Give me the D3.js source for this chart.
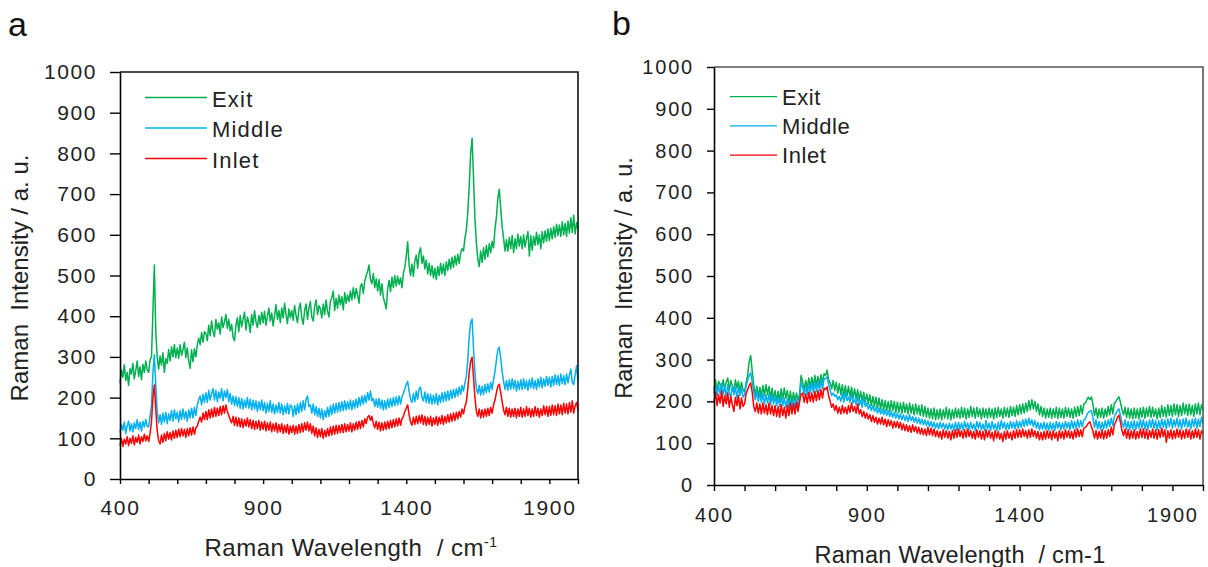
<!DOCTYPE html>
<html>
<head>
<meta charset="utf-8">
<script src="https://cdn.jsdelivr.net/npm/d3@7"></script>
<style>
  html, body { margin: 0; padding: 0; background: #fff; }
  svg { display: block; font-family: "Liberation Sans", Arial, Helvetica, sans-serif; }
</style>
</head>
<body>
<svg id="chart" width="1208" height="567"></svg>
<script>
// Raman shift grid (cm-1), one sample every 5 cm-1
const wavenumbers = d3.range(400, 2001, 5);

// Tick values
const yTicks = d3.range(0, 1001, 100);
const xTicks = d3.range(400, 2001, 100);
const xLabelTicks = [400, 900, 1400, 1900];

const seriesNames = ["Exit", "Middle", "Inlet"];
const seriesColors = ["#00b050", "#00b0f0", "#ff0000"];

// ---- Panel a : spectra (a. u.), one row per 100 cm-1 ----
const exitA = [
  235,268,250,281,242,262,230,271,258,284,246,266,290,252,276,244,282,262,290,268,
  262,292,300,410,526,360,300,270,302,280,310,262,296,284,318,290,325,300,330,298,
  322,296,330,304,318,336,298,322,290,272,318,288,320,300,330,346,330,360,336,362,
  358,340,378,352,388,362,350,392,368,384,356,398,372,386,404,370,392,364,380,348,
  340,378,396,362,402,374,392,410,366,398,384,360,404,378,414,386,372,402,380,410,
  384,412,378,400,420,388,408,376,402,428,392,414,384,420,396,432,404,382,418,396,
  414,390,426,402,384,418,432,396,380,414,430,392,420,436,398,388,424,440,404,426,
  418,396,430,404,440,412,398,436,446,462,414,444,420,452,428,448,416,458,432,452,
  436,462,440,470,444,468,452,432,474,480,456,486,500,510,526,490,480,505,470,492,
  462,490,452,480,446,432,418,468,488,460,496,470,500,474,498,478,494,470,506,520,
  548,583,526,500,528,498,536,550,518,556,568,530,548,516,538,504,530,500,524,494,
  518,490,522,500,530,504,528,500,534,512,540,516,545,520,548,526,552,530,556,566,
  560,592,612,655,720,800,837,740,640,580,540,522,560,532,568,540,574,546,578,556,
  584,568,615,642,690,712,665,620,592,560,588,560,594,566,598,556,590,566,602,572,
  596,566,600,570,590,608,548,598,562,596,574,606,576,600,566,608,580,610,584,614,
  586,616,590,620,594,626,598,624,596,632,600,628,596,634,604,642,606,648,602,630,
  614
];
const middleA = [
  114,134,120,140,112,130,142,118,136,116,138,124,146,122,140,118,142,128,146,130,
  128,154,180,260,305,230,166,138,158,134,162,140,164,136,160,144,168,142,170,148,
  164,140,168,146,172,148,166,142,170,150,174,150,176,156,182,196,204,182,208,188,
  212,188,218,194,210,222,194,218,190,214,198,222,192,216,200,220,190,210,184,204,
  180,202,178,200,174,198,172,194,176,200,174,196,170,194,172,192,166,190,170,194,
  168,188,162,186,166,192,164,184,160,182,164,188,162,184,158,180,162,186,160,182,
  178,154,180,158,184,162,188,166,192,170,196,204,178,182,162,184,158,178,154,174,
  150,172,146,168,152,176,154,180,158,184,162,186,164,188,166,190,168,192,170,190,
  172,194,170,192,174,196,176,200,180,204,184,206,188,212,194,216,192,198,178,196,
  176,198,174,194,170,192,172,196,176,198,178,200,180,202,182,204,184,202,210,222,
  232,240,216,196,188,210,190,216,196,222,226,200,192,214,188,210,186,208,184,206,
  186,210,182,206,188,212,190,214,192,216,194,218,198,220,200,222,204,226,208,230,
  216,236,252,292,350,385,393,320,262,222,210,230,206,228,208,232,212,234,214,238,
  220,244,264,292,318,324,296,264,240,220,242,218,244,220,246,222,242,216,240,220,
  244,220,246,222,242,218,244,224,248,222,242,220,246,226,250,224,246,228,252,230,
  250,226,252,230,256,232,254,230,258,234,254,232,258,236,256,270,238,232,256,278,
  240
];
const inletA = [
  82,100,80,98,86,104,82,100,88,106,84,102,90,108,86,104,92,110,94,106,
  92,112,140,200,231,170,118,94,86,108,90,112,94,116,98,114,96,118,100,120,
  102,122,104,124,106,122,102,124,106,126,108,128,110,126,130,142,152,140,162,146,
  166,146,170,150,172,152,176,154,174,156,178,158,180,162,182,166,156,146,138,154,
  132,152,130,150,128,148,126,146,130,150,128,146,124,144,122,142,124,144,120,140,
  122,142,118,138,120,140,116,136,118,138,114,134,116,136,112,132,114,134,110,130,
  114,132,110,130,112,134,114,136,116,138,120,140,118,136,112,130,106,126,102,122,
  104,124,100,120,104,124,106,128,108,130,110,132,112,132,114,134,114,136,116,134,
  118,138,116,136,120,140,122,142,124,144,128,148,136,152,156,144,154,136,126,142,
  122,140,118,138,120,140,122,142,124,144,126,146,128,148,130,150,132,148,154,166,
  174,182,158,140,132,152,134,154,136,156,138,158,134,154,132,152,134,154,130,150,
  134,154,132,152,136,156,134,154,138,158,140,160,142,162,144,164,148,166,152,172,
  160,178,190,222,262,290,299,250,200,166,154,172,150,170,152,172,154,174,156,176,
  162,182,194,212,228,233,212,190,170,158,176,154,174,152,172,154,174,150,172,154,
  176,152,172,154,178,156,174,152,172,154,178,156,174,152,172,156,180,158,178,154,
  178,156,182,158,180,156,184,160,182,158,186,162,184,160,188,164,192,162,180,188,
  168
];

// ---- Panel b : spectra (a. u.), one row per 100 cm-1 ----
const exitB = [
  228,252,222,248,240,220,252,230,246,256,226,250,238,220,252,232,248,224,246,228,
  222,244,262,295,310,272,240,214,236,210,234,212,238,214,240,216,236,206,232,204,
  226,200,224,202,230,206,232,208,226,198,224,196,222,200,220,202,218,262,246,228,
  250,230,256,234,258,236,262,238,260,240,264,244,266,262,275,252,244,230,250,226,
  246,220,242,216,240,214,238,212,236,210,234,208,230,206,228,202,224,200,222,198,
  218,194,216,190,212,188,210,184,208,182,204,180,202,178,200,176,202,178,200,174,
  198,174,196,172,198,174,194,170,196,172,192,168,194,170,190,166,192,164,188,162,
  184,160,182,158,184,156,180,158,182,156,180,160,186,158,182,156,180,160,184,162,
  182,160,186,162,184,158,182,162,188,164,184,160,186,164,182,158,184,162,182,160,
  184,162,182,158,184,162,186,164,182,160,186,164,184,162,188,166,186,164,190,168,
  192,170,194,172,196,176,202,180,204,182,200,176,194,168,188,164,184,160,182,162,
  184,160,182,162,186,160,184,162,182,160,186,164,184,162,182,160,186,164,188,166,
  190,170,194,196,204,210,204,211,192,166,184,160,182,162,184,160,182,164,188,168,
  192,170,196,200,206,211,198,180,168,186,162,184,160,182,158,184,160,182,158,184,
  162,186,160,184,164,188,162,186,164,182,158,184,162,190,164,186,162,192,166,190,
  164,194,168,192,164,190,166,196,170,192,166,194,168,190,164,194,170,196,168,192,
  180
];
const middleB = [
  220,242,214,238,218,244,216,236,212,240,220,210,238,216,234,208,236,214,232,210,
  216,236,250,262,268,246,222,204,224,200,220,198,218,194,216,196,218,192,214,194,
  212,190,210,188,212,190,208,186,206,184,204,186,206,184,204,188,210,244,234,216,
  236,216,242,220,244,222,246,224,248,226,250,230,254,254,259,240,226,214,220,212,
  216,204,212,200,220,198,222,202,210,198,218,196,206,192,214,190,202,186,210,188,
  196,182,192,178,190,176,186,172,184,170,182,168,180,166,178,164,176,162,174,160,
  172,158,170,156,168,154,166,152,168,154,164,150,162,148,160,146,158,144,156,142,
  154,140,152,138,150,136,148,134,150,136,148,134,146,132,148,134,146,130,150,132,
  150,134,148,132,152,136,148,132,150,134,146,130,152,136,150,132,146,130,154,134,
  148,130,152,134,146,130,150,132,154,136,150,132,148,134,152,136,150,134,154,136,
  152,138,156,140,158,142,160,144,156,140,154,136,150,132,148,134,150,132,148,130,
  150,132,148,130,152,136,150,132,148,134,152,136,150,132,154,136,152,134,156,138,
  154,140,156,158,168,174,176,178,160,138,156,134,152,132,150,134,154,136,156,140,
  160,142,164,170,178,182,166,150,138,156,134,152,132,152,134,154,132,152,136,156,
  136,156,134,152,132,156,138,158,136,154,132,154,136,158,138,156,134,158,140,160,
  136,156,140,160,138,156,134,158,140,160,138,154,134,158,140,160,136,158,140,162,
  146
];
const inletB = [
  198,222,190,216,196,224,188,214,194,220,186,212,192,176,210,190,214,182,208,188,
  194,218,228,238,244,222,188,176,196,172,194,170,196,172,192,168,196,170,190,166,
  190,164,188,162,192,166,186,160,190,166,196,170,194,170,198,176,198,218,220,198,
  218,196,222,200,220,198,224,202,226,204,228,208,232,228,235,214,200,186,194,178,
  190,172,186,170,190,172,186,170,190,174,196,176,188,172,194,170,180,164,176,160,
  172,158,168,152,166,150,162,146,160,146,162,144,158,140,156,142,154,136,152,138,
  152,136,150,132,146,130,144,128,142,126,144,128,140,124,138,122,136,120,134,118,
  138,120,136,118,134,116,130,114,128,110,132,114,130,112,128,108,130,112,132,114,
  134,116,130,112,132,114,134,116,130,112,128,110,132,114,130,110,128,108,132,114,
  130,112,126,106,130,112,128,110,124,104,128,110,130,112,126,108,130,112,132,114,
  132,114,134,116,130,112,132,114,134,116,130,112,128,108,126,108,128,110,130,112,
  128,108,130,112,126,106,130,112,128,110,132,114,130,112,128,110,132,114,134,116,
  132,116,136,138,142,148,151,140,128,112,130,110,128,112,132,110,130,112,132,116,
  138,120,144,152,162,167,150,130,118,134,112,132,110,130,112,132,110,128,112,134,
  114,134,112,132,110,130,114,134,112,132,110,132,114,136,116,132,102,130,112,132,
  110,130,112,134,114,132,110,130,112,134,114,132,110,130,112,134,114,132,110,130,
  122
];

const svg = d3.select("#chart");

function drawPanel(cfg, values) {
  const x = d3.scaleLinear().domain([400, 2000]).range([cfg.left, cfg.right]);
  const y = d3.scaleLinear().domain([0, 1000]).range([cfg.bottom, cfg.top]);
  const g = svg.append("g");

  // spectra: Exit, Middle, Inlet (Inlet drawn last, on top)
  const line = d3.line()
    .x((d, i) => x(wavenumbers[i]))
    .y(d => y(d));
  values.forEach((vals, k) => {
    g.append("path")
      .datum(vals)
      .attr("d", line)
      .attr("fill", "none")
      .attr("stroke", seriesColors[k])
      .attr("stroke-width", 1.5)
      .attr("stroke-linejoin", "round");
  });

  // top and right border of the plot box
  g.append("path")
    .attr("d", `M${cfg.left},${cfg.top}H${cfg.right}V${cfg.bottom}`)
    .attr("fill", "none")
    .attr("stroke", cfg.frameColor)
    .attr("stroke-width", 1.6);

  // y axis
  const gy = g.append("g")
    .attr("transform", `translate(${cfg.left},0)`)
    .call(d3.axisLeft(y).tickValues(yTicks).tickSize(cfg.yTickLen)
      .tickSizeOuter(0).tickPadding(cfg.yPad).tickFormat(d3.format("d")));
  gy.select(".domain").attr("stroke", "#000").attr("stroke-width", 1.6);
  gy.selectAll(".tick line").attr("stroke", "#000").attr("stroke-width", 1.4);
  gy.selectAll(".tick text")
    .attr("font-size", cfg.tickFont)
    .attr("letter-spacing", cfg.tickSpacing)
    .attr("fill", "#222")
    .attr("font-family", "'Liberation Sans', Arial, sans-serif");

  // x axis: minor ticks every 100 cm-1, labels every 500 cm-1
  const gx = g.append("g")
    .attr("transform", `translate(0,${cfg.bottom})`)
    .call(d3.axisBottom(x).tickValues(xTicks).tickSize(cfg.xTickLen)
      .tickSizeOuter(0).tickPadding(cfg.xPad)
      .tickFormat(d => xLabelTicks.includes(d) ? String(d) : ""));
  gx.select(".domain").attr("stroke", "#000").attr("stroke-width", 1.6);
  gx.selectAll(".tick line").attr("stroke", "#000").attr("stroke-width", 1.4);
  gx.selectAll(".tick text")
    .attr("font-size", cfg.tickFont)
    .attr("letter-spacing", cfg.tickSpacing)
    .attr("fill", "#222")
    .attr("font-family", "'Liberation Sans', Arial, sans-serif");

  // legend
  seriesNames.forEach((name, k) => {
    const ly = cfg.legendY + k * cfg.legendStep;
    g.append("line")
      .attr("x1", cfg.legendX1).attr("x2", cfg.legendX2)
      .attr("y1", ly).attr("y2", ly)
      .attr("stroke", seriesColors[k]).attr("stroke-width", 1.3);
    g.append("text")
      .attr("x", cfg.legendX2 + 5).attr("y", ly + cfg.legendTextDy)
      .attr("font-size", cfg.legendFont)
      .attr("letter-spacing", cfg.legendSpacing)
      .attr("fill", "#222")
      .text(name);
  });

  // axis titles
  g.append("text")
    .attr("transform", `translate(${cfg.yTitleX},${cfg.yTitleY}) rotate(-90)`)
    .attr("text-anchor", "middle")
    .attr("font-size", cfg.titleFont)
    .attr("fill", "#222")
    .style("white-space", "pre")
    .text("Raman  Intensity / a. u.");

  const xt = g.append("text")
    .attr("x", cfg.xTitleX).attr("y", cfg.xTitleY)
    .attr("text-anchor", "middle")
    .attr("font-size", cfg.titleFont)
    .attr("letter-spacing", cfg.titleSpacing)
    .attr("fill", "#222")
    .style("white-space", "pre");
  if (cfg.superscript) {
    xt.append("tspan").text("Raman Wavelength  / cm");
    xt.append("tspan").attr("dy", -9).attr("font-size", 14).text("-1");
  } else {
    xt.append("tspan").text("Raman Wavelength  / cm-1");
  }

  // panel letter
  g.append("text")
    .attr("x", cfg.letterX).attr("y", cfg.letterY)
    .attr("font-size", 34)
    .attr("fill", "#111")
    .text(cfg.letter);
}

drawPanel({
  left: 120, right: 578, top: 72, bottom: 479,
  frameColor: "#111",
  yTickLen: 10, yPad: 13, xTickLen: 5, xPad: 16,
  tickFont: 21, tickSpacing: 1.6,
  legendX1: 145, legendX2: 207, legendY: 97.5, legendStep: 30.5, legendTextDy: 9,
  legendFont: 22, legendSpacing: 1.2,
  titleFont: 24, titleSpacing: 0.5,
  yTitleX: 28, yTitleY: 278,
  xTitleX: 351, xTitleY: 556,
  superscript: true,
  letter: "a", letterX: 8, letterY: 36
}, [exitA, middleA, inletA]);

drawPanel({
  left: 714, right: 1203, top: 67, bottom: 485,
  frameColor: "#555",
  yTickLen: 7, yPad: 13, xTickLen: 6, xPad: 17,
  tickFont: 20, tickSpacing: 1.8,
  legendX1: 730, legendX2: 777, legendY: 96.7, legendStep: 29.2, legendTextDy: 8,
  legendFont: 22, legendSpacing: 0.6,
  titleFont: 23.5, titleSpacing: 0.3,
  yTitleX: 632, yTitleY: 278,
  xTitleX: 960, xTitleY: 563,
  superscript: false,
  letter: "b", letterX: 612, letterY: 35
}, [exitB, middleB, inletB]);
</script>
</body>
</html>
